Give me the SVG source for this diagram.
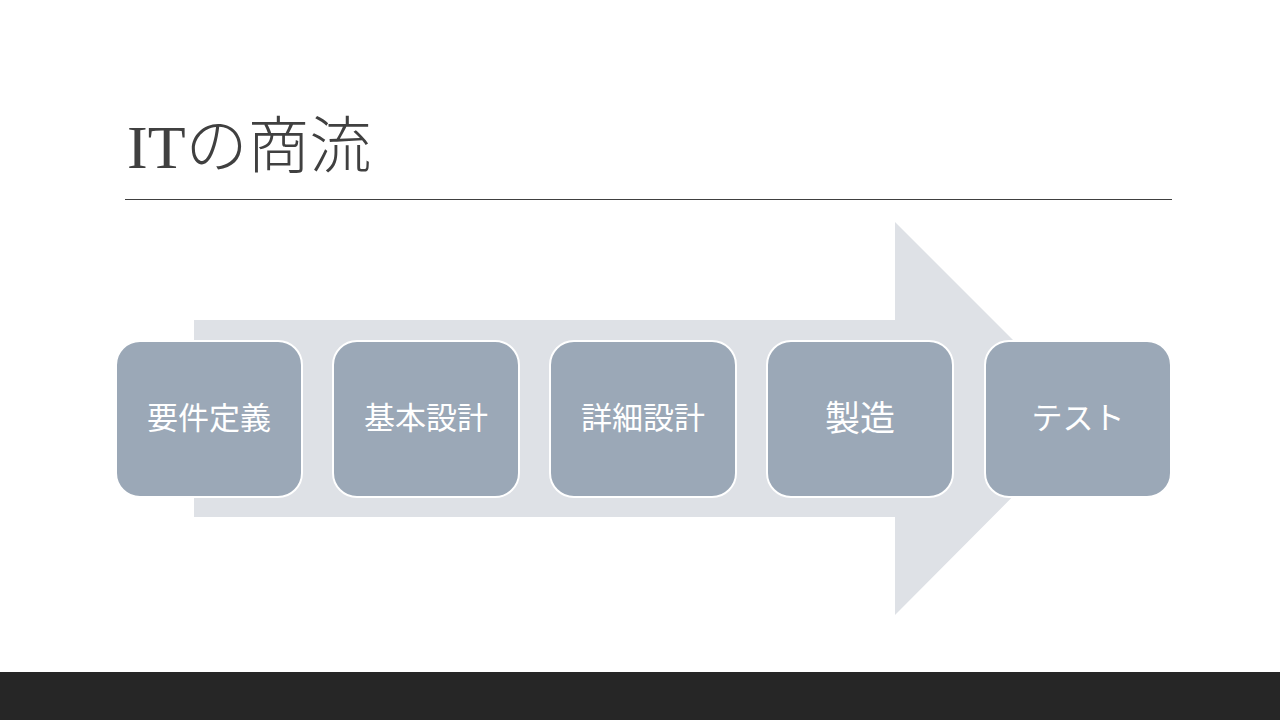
<svg xmlns="http://www.w3.org/2000/svg" width="1280" height="720" viewBox="0 0 1280 720">
<style>
.box{fill:#9BA8B7;stroke:#FFFFFF;stroke-width:2}
.lbl{fill:#FFFFFF;font-family:"Noto Sans CJK JP","Noto Sans",sans-serif;font-size:31px;text-anchor:middle}
</style>
<rect x="0" y="0" width="1280" height="720" fill="#FFFFFF"/>
<text x="127" y="168" font-family="'Liberation Serif','Noto Sans CJK JP',serif" font-size="62" font-weight="300" fill="#404040">ITの商流</text>
<line x1="125" y1="199.5" x2="1172" y2="199.5" stroke="#404040" stroke-width="1"/>
<g id="arrow">
<path d="M194,320 H895 V222 L1091,418 L895,615 V517 H194 Z" fill="#DEE1E6"/>
</g>
<g id="n1"><rect class="box" x="116" y="341" width="186" height="156" rx="24"/><text class="lbl" x="209" y="429">要件定義</text></g>
<g id="n2"><rect class="box" x="333" y="341" width="186" height="156" rx="24"/><text class="lbl" x="426" y="429">基本設計</text></g>
<g id="n3"><rect class="box" x="550" y="341" width="186" height="156" rx="24"/><text class="lbl" x="643" y="429">詳細設計</text></g>
<g id="n4"><rect class="box" x="767" y="341" width="186" height="156" rx="24"/><text class="lbl" x="860" y="431" style="font-size:35px">製造</text></g>
<g id="n5"><rect class="box" x="985" y="341" width="186" height="156" rx="24"/><text class="lbl" x="1078" y="429">テスト</text></g>
<g id="connectors"></g>
<rect x="0" y="672" width="1280" height="48" fill="#262626"/>
</svg>
